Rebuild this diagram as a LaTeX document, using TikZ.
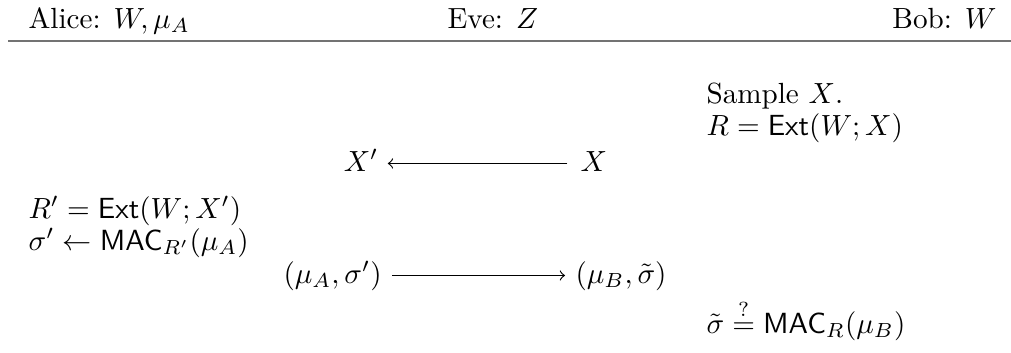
\documentclass[tikz,border=0pt]{standalone}
\usepackage{amsmath}
\usepackage{amssymb}
\usepackage{tikz}
\usetikzlibrary{arrows,positioning,calc}

\newcommand{\Ext}{\mathsf{Ext}}
\newcommand{\MAC}{\mathsf{MAC}}

\tikzset{
    party/.style={inner sep=0pt, anchor=base west},
    msgtext/.style={inner sep=0pt, text height=1.9ex, text depth=0.7ex},
    msg/.style={->, >=to, line width=0.4pt}
}

\begin{document}
\begin{tikzpicture}[x=0.343pt, y=-0.343pt]
    \useasboundingbox (0,0) rectangle (1011,352);

    % Header
    \node[party] (alice) at (28,28) {Alice: $W, \mu_A$};
    \node[party] (eve) at (447,28) {Eve: $Z$};
    \node[inner sep=0pt, anchor=base east] (bob) at (997,28) {Bob: $W$};
    \draw[line width=0.75pt, black!55] (8,41) -- (1011,41);

    % Bob samples the seed
    \node[party] (sample) at (706,103) {Sample $X$.};
    \node[party] (bobkey) at (706,135) {$R = \Ext(W; X)$};

    % First message
    \node[msgtext, anchor=base east] (xp) at (379,171) {$X'$};
    \node[msgtext, anchor=base west] (x) at (580,171) {$X$};
    \draw[msg, shorten <=4.3pt, shorten >=3pt] (x) -- (xp);

    % Alice computes the tag
    \node[party] (alicekey) at (28,218) {$R' = \Ext(W; X')$};
    \node[party] (alicetag) at (28,250) {$\sigma' \leftarrow \MAC_{R'}(\mu_A)$};

    % Second message
    \node[msgtext, anchor=base west] (sent) at (283,283) {$(\mu_A, \sigma')$};
    \node[msgtext, anchor=base west] (recv) at (575,283) {$(\mu_B, \tilde{\sigma})$};
    \draw[msg, shorten <=3.4pt, shorten >=3.4pt] (sent) -- (recv);

    % Bob verifies
    \node[party] (check) at (706,333) {$\tilde{\sigma} \stackrel{?}{=} \MAC_R(\mu_B)$};
\end{tikzpicture}
\end{document}
